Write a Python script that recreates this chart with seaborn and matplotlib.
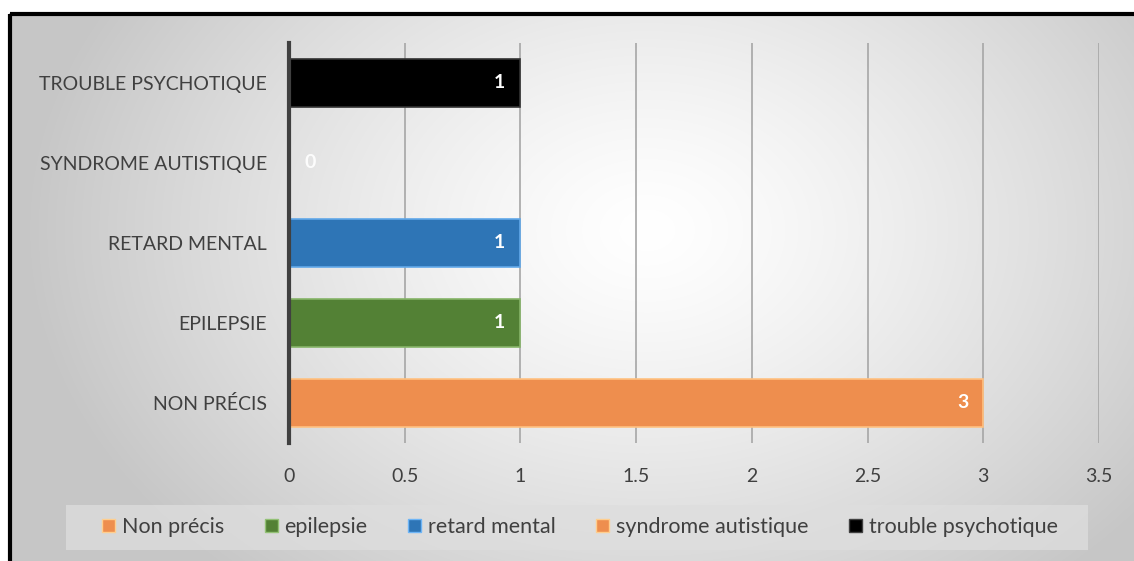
import numpy as np
import matplotlib
matplotlib.use("Agg")
import matplotlib.pyplot as plt
from matplotlib.patches import Rectangle, Patch
import seaborn as sns

# ---- data ----
categories = ["NON PRÉCIS", "EPILEPSIE", "RETARD MENTAL", "SYNDROME AUTISTIQUE", "TROUBLE PSYCHOTIQUE"]
legend_labels = ["Non précis", "epilepsie", "retard mental", "syndrome autistique", "trouble psychotique"]
values = [3, 1, 1, 0, 1]
colors = ["#EE8E4E", "#538135", "#2E75B6", "#EE8E4E", "#000000"]
x_ticks = [0, 0.5, 1, 1.5, 2, 2.5, 3, 3.5]

sns.set_theme(style="white")
plt.rcParams["font.family"] = ["Lato", "DejaVu Sans"]

W, H = 1134, 561
fig = plt.figure(figsize=(W / 100, H / 100), dpi=100)
fig.patch.set_facecolor("white")

# background with radial gradient and border
bg = fig.add_axes([0, 0, 1, 1], zorder=-10)
bg.set_xlim(0, W)
bg.set_ylim(H, 0)
bg.axis("off")
yy, xx = np.mgrid[0:H, 0:W]
cx, cy = 640, 220
r = np.sqrt(((xx - cx) / 1.0) ** 2 + ((yy - cy) / 0.75) ** 2)
g = np.clip(r / 620, 0, 1)
shade = 1.0 - 0.22 * g ** 1.3
img = np.dstack([shade, shade, shade])
bg.imshow(img, extent=(9, W + 5, H + 5, 13), zorder=0, aspect="auto")
bg.add_patch(Rectangle((9.5, 13.5), W + 20, H + 20, fill=False, edgecolor="black", linewidth=3, zorder=2))
# legend background
bg.add_patch(Rectangle((66, 505), 1022, 45, facecolor="#dedede", edgecolor="none", alpha=0.75, zorder=1))

# main axes: x 289..1099, y 43..443 (pixels)
ax = fig.add_axes([289 / W, 1 - 443 / H, (1099 - 289) / W, (443 - 43) / H])
ax.set_facecolor("none")

order = categories[::-1]
palette = dict(zip(categories, colors))
sns.barplot(x=values, y=categories, hue=categories, palette=palette, order=order,
            hue_order=categories, orient="h", width=0.61, legend=False, ax=ax,
            saturation=1, edgecolor="none", zorder=3)
for p in ax.patches:
    fc = p.get_facecolor()
    p.set_edgecolor((min(fc[0] + 0.2, 1), min(fc[1] + 0.2, 1), min(fc[2] + 0.2, 1), 1))
    p.set_linewidth(1.2)

ax.set_xlim(0, 3.5)
ax.set_xticks(x_ticks)
ax.set_xticklabels([("%g" % t) for t in x_ticks])
ax.grid(axis="x", color="#a6a6a6", linewidth=1.2, zorder=0)
ax.set_axisbelow(True)
for s in ["top", "right", "bottom"]:
    ax.spines[s].set_visible(False)
ax.spines["left"].set_color("#404040")
ax.spines["left"].set_linewidth(3)
ax.spines["left"].set_zorder(5)
ax.tick_params(axis="x", length=0, pad=18, labelsize=14, labelcolor="#404040")
ax.tick_params(axis="y", length=0, pad=16, labelsize=14, labelcolor="#404040")
ax.set_xlabel("")
ax.set_ylabel("")

for cont in ax.containers:
    ax.bar_label(cont, labels=[("%d" % v) if v > 0 else "" for v in cont.datavalues],
                 label_type="edge", padding=-19, color="white", fontsize=14, fontweight="bold")
    for rect, v in zip(cont.patches, cont.datavalues):
        if v == 0:
            ax.text(0.09, rect.get_y() + rect.get_height() / 2, "0", ha="center", va="center",
                    color="white", fontsize=14, fontweight="bold", alpha=0.9, zorder=6)

def lighter(c, k=0.25):
    rgb = matplotlib.colors.to_rgb(c)
    return tuple(min(v + k, 1) for v in rgb)

handles = [Patch(facecolor=c, edgecolor=lighter(c), linewidth=1) for c in colors]
fig.legend(handles, legend_labels, loc="center", bbox_to_anchor=(580 / W, 1 - 527 / H), ncol=5,
           frameon=False, fontsize=15.5, handlelength=0.6, handleheight=0.6, handletextpad=0.3,
           columnspacing=1.9, labelcolor="#404040")

fig.savefig("out.png", dpi=100)
